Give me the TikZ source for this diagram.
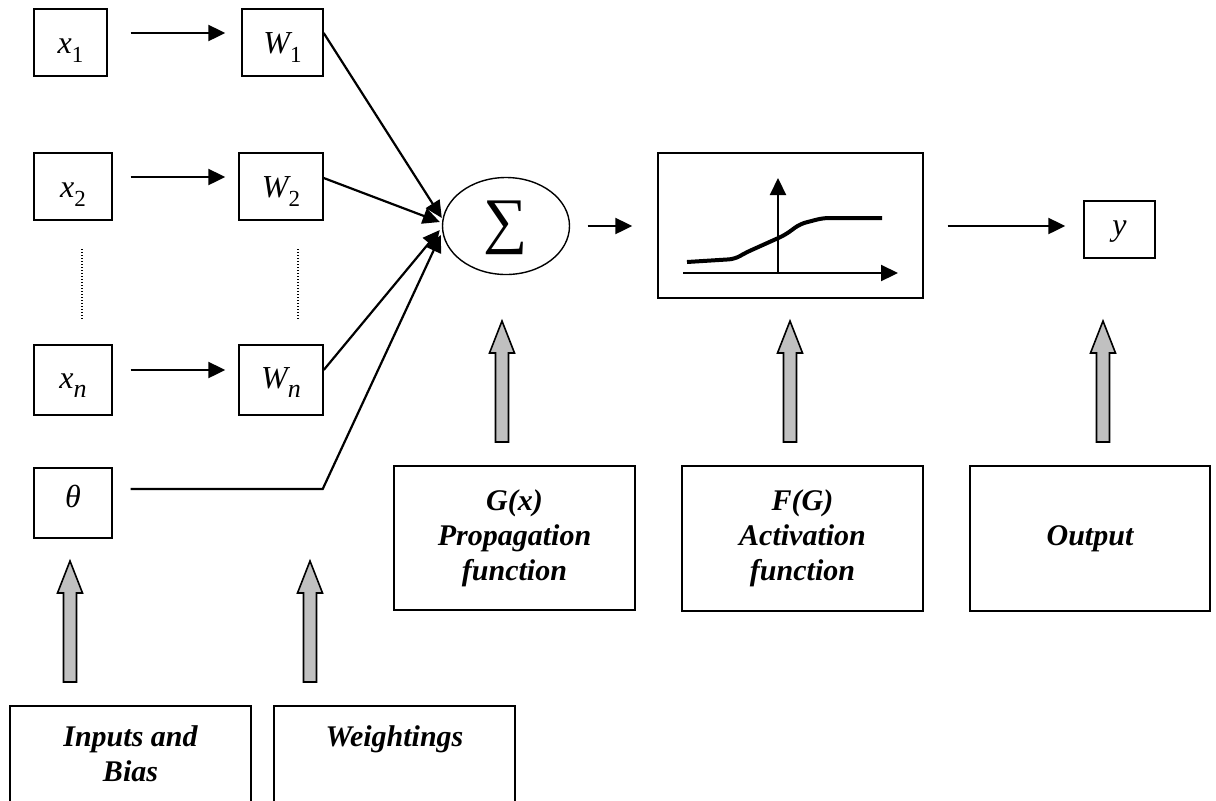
\documentclass[tikz,border=0pt]{standalone}
\usepackage{fontspec}
\setmainfont{Liberation Serif}
\usetikzlibrary{arrows.meta,calc,shapes.geometric}
\definecolor{arrowgray}{RGB}{192,192,192}

% baseline of a symbol placed #1 below the node centre
\newcommand{\lowered}[2]{\raisebox{-#1}[0pt][0pt]{#2}}
\newcommand{\subdigit}[1]{\raisebox{-4.5pt}{\fontsize{11.5}{11.5}\selectfont #1}}
\newcommand{\subvar}[1]{\raisebox{-4.5pt}{\fontsize{13}{13}\selectfont\itshape #1}}

\tikzset{
  symbox/.style={draw, line width=0.7pt, inner sep=0pt, font=\fontsize{16}{16}\selectfont},
  labbox/.style={draw, line width=0.7pt, inner sep=0pt, align=center,
    font=\fontsize{15}{17.5}\selectfont\bfseries\itshape},
  arr/.style={line width=1.1pt, -{Triangle[length=8.5pt,width=8pt]}},
  conn/.style={line width=1.1pt, line join=miter},
  guide/.style={line width=0.6pt, dash pattern=on 0.6pt off 0.9pt},
  curve/.style={line width=2pt, rounded corners=3pt},
  blockarrow/.pic={
    \draw[line width=0.8pt, fill=arrowgray, line join=miter]
      (-6.5,0) -- (-6.5,-89) -- (-12.5,-89) -- (0,-121) -- (12.5,-89)
      -- (6.5,-89) -- (6.5,0) -- cycle;
  }
}

\begin{document}
\begin{tikzpicture}[x=0.5pt,y=-0.5pt]
\useasboundingbox (0,0) rectangle (1216,800);

% inputs and weights
\node[symbox, minimum width=36.5pt, minimum height=33.5pt] (x1) at (70.5,42.5)
  {\lowered{5.25pt}{{\itshape x}\subdigit{1}}};
\node[symbox, minimum width=40.5pt, minimum height=33.5pt] (W1) at (282.5,42.5)
  {\lowered{5.25pt}{{\itshape W}\subdigit{1}}};
\node[symbox, minimum width=39pt, minimum height=33.5pt] (x2) at (73,186.5)
  {\lowered{5.25pt}{{\itshape x}\subdigit{2}}};
\node[symbox, minimum width=42pt, minimum height=33.5pt] (W2) at (281,186.5)
  {\lowered{5.25pt}{{\itshape W}\subdigit{2}}};
\node[symbox, minimum width=39pt, minimum height=35pt] (xn) at (73,380)
  {\lowered{4pt}{{\itshape x}\subvar{n}}};
\node[symbox, minimum width=42pt, minimum height=35pt] (Wn) at (281,380)
  {\lowered{4pt}{{\itshape W}\subvar{n}}};
\node[symbox, minimum width=39pt, minimum height=35pt] (theta) at (73,503)
  {\lowered{2.25pt}{\itshape θ}};

% summation, activation and output
\node[draw, ellipse, line width=0.7pt, inner sep=0pt, minimum width=63.5pt,
  minimum height=48.5pt, font=\fontsize{31}{31}\selectfont] (sum) at (506,226)
  {\lowered{7.5pt}{∑}};
\node[draw, line width=0.7pt, minimum width=132.5pt, minimum height=72.5pt]
  (act) at (790.5,225.5) {};
\node[symbox, minimum width=35.5pt, minimum height=28.5pt] (y) at (1119.5,229.5)
  {\lowered{2.75pt}{\itshape y}};

% descriptive boxes
\node[labbox, minimum width=120.5pt, minimum height=72pt] (prop) at (514.5,538)
  {G(x)\\Propagation\\function};
\node[labbox, minimum width=120.5pt, minimum height=72.5pt] (actlab) at (802.5,538.5)
  {F(G)\\Activation\\function};
\node[labbox, minimum width=120pt, minimum height=72.5pt] (outlab) at (1090,538.5)
  {Output};
\node[labbox, minimum width=120.5pt, minimum height=48pt] (inlab) at (130.5,754)
  {Inputs and\\Bias};
\node[labbox, minimum width=120.5pt, minimum height=48pt] (wlab) at (394.5,754)
  {Weightings\\\mbox{}};

% input to weight arrows
\draw[arr] ($(x1.east)+(23,-9.5)$) -- ($(W1.west)+(-16,-9.5)$);
\draw[arr] ($(x2.east)+(18,-9.5)$) -- ($(W2.west)+(-13,-9.5)$);
\draw[arr] ($(xn.east)+(18,-10)$) -- ($(Wn.west)+(-13,-10)$);

% elided rows
\draw[guide] (82,249) -- (82,320);
\draw[guide] (298,249) -- (298,320);

% weighted inputs into the summation
\draw[arr] ($(W1.east)+(0,-9.5)$) -- ($(sum.west)+(0,-8)$);
\draw[arr] ($(W2.east)+(0,-8.5)$) -- ($(sum.west)+(-2,-4)$);
\draw[arr] ($(Wn.east)+(0,-10)$) -- ($(sum.west)+(-2,4)$);
\draw[arr, conn] ($(theta.east)+(18,-14)$) -- ++(192,0) -- ($(sum.west)+(-1,9)$);

% forward path
\draw[arr] ($(sum.east)+(17.5,0)$) -- ($(act.west)+(-25,0.5)$);
\draw[arr] ($(act.east)+(24,0.5)$) -- ($(y.west)+(-18,-3.5)$);

% activation function sketch
\coordinate (xa0) at (683,273);
\coordinate (xa1) at (898,273);
\coordinate (ya0) at (778,273);
\coordinate (ya1) at (778,178);
\draw[arr] (xa0) -- (xa1);
\draw[arr] (ya0) -- (ya1);
\draw[curve] (687,262) -- (735,259) -- (745,253) -- (785,235) -- (800,224)
  -- (823,218) -- (882,218);

% block arrows pointing at the elements they describe
\pic at (502,442) {blockarrow};
\pic at (790,442) {blockarrow};
\pic at (1103,442) {blockarrow};
\pic at (70,682) {blockarrow};
\pic at (310,682) {blockarrow};
\end{tikzpicture}
\end{document}
